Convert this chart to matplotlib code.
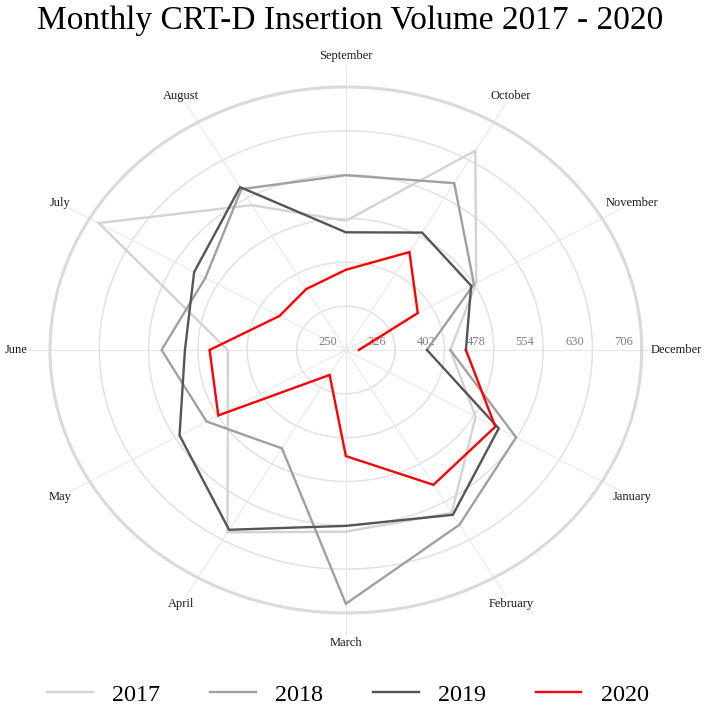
import numpy as np
import matplotlib.pyplot as plt
import matplotlib.transforms as mtransforms
from matplotlib.lines import Line2D


months = ['January', 'February', 'March', 'April', 'May', 'June',
          'July', 'August', 'September', 'October', 'November', 'December']
years = ['2017', '2018', '2019', '2020']
year_colors = ['#d3d3d3', '#a0a0a0', '#555555', '#ff0000']

# monthly volumes, January..December
vol_2017 = [481, 576, 565, 615, 460, 432, 690, 540, 474, 649, 482, 411]
vol_2018 = [553, 600, 690, 447, 498, 534, 500, 572, 553, 584, 478, 375]
vol_2019 = [522, 580, 555, 610, 546, 498, 520, 576, 454, 485, 473, 435]
vol_2020 = [516, 520, 434, 300, 477, 460, 368, 372, 389, 446, 378, 270]
dec_2016 = 411  # start point of the 2017 path

ring_ticks = [250, 326, 402, 478, 554, 630, 706]
title = 'Monthly CRT-D Insertion Volume 2017 - 2020'

serif = 'Liberation Serif'


def month_angles(n):
    # December sits at 3 o'clock, months run clockwise
    return np.deg2rad(30 * np.arange(n))


if __name__ == '__main__':
    fig = plt.figure(figsize=(7.09, 7.07), dpi=100)
    ax = fig.add_axes([0.0705, 0.133, 0.8346, 0.744], projection='polar')
    ax.set_aspect('auto')
    ax.set_theta_zero_location('E')
    ax.set_theta_direction(-1)
    ax.set_ylim(ring_ticks[0], ring_ticks[-1])
    ax.grid(False)
    ax.set_xticks([])
    ax.set_yticks([])
    ax.spines['polar'].set_color('#dadada')
    ax.spines['polar'].set_linewidth(2.2)

    # rings
    fine = np.linspace(0, 2 * np.pi, 361)
    for v in ring_ticks[1:-1]:
        ax.plot(fine, np.full_like(fine, v), color='#e2e2e2', lw=1.1, zorder=1)

    # spokes and month labels
    span = ring_ticks[-1] - ring_ticks[0]
    for i, name in enumerate(months):
        a = np.deg2rad(30 * (i + 1))
        ax.plot([a, a], [ring_ticks[0], ring_ticks[0] + 1.08 * span],
                color='#e6e6e6', lw=0.7, zorder=1, clip_on=False)
        ax.text(a, ring_ticks[0] + 1.116 * span, name, ha='center', va='center',
                fontsize=9, family=serif, color='#1a1a1a', clip_on=False)

    # radial labels
    lab_tr = mtransforms.offset_copy(ax.transData, fig=fig, x=-18, y=8.3, units='dots')
    for v in ring_ticks:
        ax.text(0, v, str(v), transform=lab_tr, ha='center', va='center',
                fontsize=9, family=serif, color='#7f7f7f', zorder=2)

    # year paths, each starting from the previous December
    series = [vol_2017, vol_2018, vol_2019, vol_2020]
    prev = dec_2016
    handles = []
    for yr, vals, col in zip(years, series, year_colors):
        r = [prev] + list(vals)
        ax.plot(month_angles(13), r, color=col, lw=1.7, zorder=3,
                solid_joinstyle='miter')
        prev = vals[-1]
        handles.append(Line2D([], [], color=col, lw=1.7))

    fig.text(0.494, 0.970, title, ha='center', va='center', fontsize=24, family=serif)

    fig.legend(handles, years, loc='center', bbox_to_anchor=(0.491, 0.017),
               ncol=4, frameon=False, prop={'family': serif, 'size': 17.4},
               handlelength=1.88, handletextpad=0.8, columnspacing=2.07)

    fig.savefig('out.png', dpi=100)
